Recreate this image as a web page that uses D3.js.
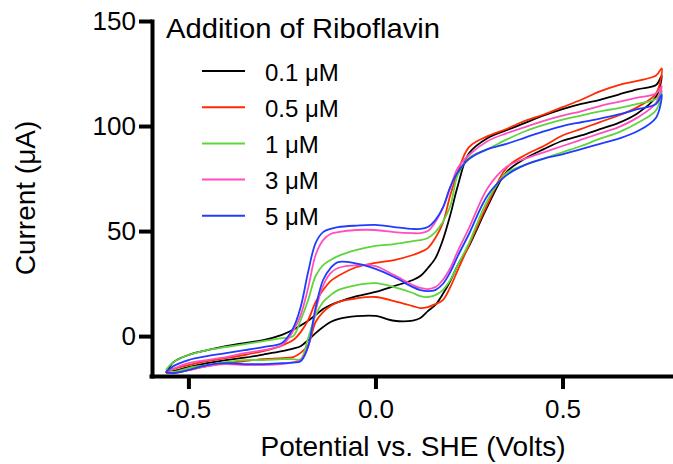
<!DOCTYPE html>
<html>
<head>
<meta charset="utf-8">
<script src="https://cdn.jsdelivr.net/npm/d3@7/dist/d3.min.js"></script>
<style>
  html, body { margin: 0; padding: 0; background: #fff; }
  svg { display: block; }
  text { font-family: Arial, "Liberation Sans", Helvetica, sans-serif; fill: #000; }
</style>
</head>
<body>
<script>
// Cyclic voltammograms recorded after successive riboflavin additions.
// Each scan runs anodic from -0.56 V up to the vertex and returns cathodic.

// Potential grid (V vs. SHE) shared by both scan directions
const potential = [-0.56, -0.54, -0.50, -0.45, -0.40, -0.35, -0.30, -0.25, -0.22, -0.20,
  -0.18, -0.16, -0.14, -0.12, -0.10, -0.05, 0.00, 0.05, 0.10, 0.12,
  0.14, 0.16, 0.18, 0.20, 0.22, 0.25, 0.30, 0.35, 0.40, 0.45,
  0.50, 0.55, 0.60, 0.65, 0.70, 0.75, 0.765];

// Current (µA) on the forward (anodic) and return (cathodic) sweeps
const blackAnodic = [-17.6, -12.4, -9.0, -6.7, -4.8, -3.3, -1.9, 0.6, 3.0, 5.0,
  7.3, 10.0, 12.9, 14.8, 16.2, 19.0, 21.0, 23.8, 26.7, 28.6,
  32.4, 37.0, 45.7, 57.6, 71.5, 87.0, 94.3, 98.0, 101.5, 105.0,
  108.0, 110.5, 112.5, 115.0, 117.5, 119.5, 124.0];
const blackCathodic = [-17.6, -16.7, -14.8, -12.9, -11.4, -10.3, -8.8, -7.2, -6.0, -4.8,
  -1.9, 1.4, 4.3, 6.7, 8.1, 9.5, 9.6, 7.3, 7.4, 8.6,
  11.9, 14.8, 20.0, 26.2, 33.8, 42.9, 61.9, 78.0, 84.5, 89.0,
  93.0, 95.5, 98.5, 101.5, 106.0, 114.0, 124.0];

const redAnodic = [-17.6, -15.7, -13.8, -11.9, -10.5, -9.0, -7.1, -4.5, -1.9, 1.9,
  7.6, 16.2, 21.9, 26.2, 28.6, 32.9, 34.8, 36.2, 38.6, 40.0,
  41.9, 46.7, 53.8, 67.0, 78.0, 90.0, 95.2, 98.6, 102.5, 105.5,
  109.0, 112.5, 116.5, 119.5, 121.5, 124.0, 127.5];
const redCathodic = [-17.6, -17.6, -16.2, -14.3, -12.9, -11.9, -11.0, -10.5, -10.0, -8.0,
  -4.3, 6.7, 11.4, 14.3, 16.2, 18.0, 18.6, 16.7, 14.3, 13.3,
  13.8, 15.2, 17.1, 23.3, 31.4, 43.3, 62.9, 80.0, 86.2, 90.5,
  95.5, 98.6, 101.9, 105.0, 109.0, 115.5, 127.5];

const greenAnodic = [-16.0, -12.4, -9.0, -6.7, -5.2, -3.8, -2.4, -1.0, 0.0, 7.6,
  17.1, 28.6, 33.8, 36.2, 38.1, 41.0, 42.9, 43.8, 45.2, 45.7,
  46.7, 49.5, 54.3, 61.9, 76.7, 84.8, 89.0, 93.5, 97.5, 100.5,
  103.0, 105.0, 107.0, 108.5, 110.5, 113.0, 117.0];
const greenCathodic = [-16.0, -17.1, -15.2, -13.8, -12.4, -11.4, -11.4, -11.0, -11.0, -11.0,
  -1.0, 10.0, 16.2, 19.5, 21.9, 24.3, 25.2, 23.3, 20.5, 19.0,
  18.6, 19.5, 21.9, 26.7, 33.8, 44.3, 64.8, 77.5, 81.5, 84.5,
  87.5, 90.5, 94.0, 97.0, 101.4, 107.5, 117.0];

const pinkAnodic = [-17.1, -15.5, -12.9, -11.4, -10.0, -8.1, -6.7, -4.3, 2.4, 10.0,
  22.9, 38.6, 45.7, 48.6, 49.5, 50.5, 50.5, 49.5, 49.0, 49.0,
  50.0, 54.3, 61.0, 70.5, 80.0, 86.2, 92.9, 96.5, 99.5, 102.5,
  105.0, 107.0, 109.5, 111.5, 113.5, 115.5, 119.0];
const pinkCathodic = [-17.1, -17.6, -16.2, -14.3, -13.3, -13.8, -13.8, -13.3, -12.4, -11.5,
  -5.0, 12.0, 24.0, 30.0, 32.4, 33.8, 33.3, 29.0, 24.3, 22.9,
  22.4, 23.3, 26.7, 32.4, 40.5, 51.4, 70.5, 80.5, 84.5, 87.5,
  90.5, 93.5, 96.5, 99.5, 104.0, 111.0, 119.0];

const blueAnodic = [-17.1, -14.3, -11.4, -9.5, -8.1, -6.7, -5.2, -3.3, 3.8, 13.8,
  30.5, 44.3, 49.5, 51.0, 51.9, 52.6, 52.9, 51.9, 51.0, 51.0,
  51.9, 55.2, 61.0, 71.0, 78.0, 84.3, 89.0, 91.5, 94.5, 97.5,
  100.0, 101.8, 103.5, 105.5, 108.0, 110.5, 115.0];
const blueCathodic = [-17.1, -17.6, -16.2, -13.8, -12.9, -13.3, -13.3, -12.9, -12.6, -12.0,
  -5.0, 13.5, 26.7, 32.4, 35.2, 34.5, 32.0, 28.1, 23.3, 21.9,
  21.4, 21.9, 24.8, 30.5, 38.1, 48.6, 67.1, 76.5, 81.5, 84.5,
  86.5, 89.0, 91.5, 94.0, 97.5, 104.0, 115.0];

const concentrations = ["0.1 μM", "0.5 μM", "1 μM", "3 μM", "5 μM"];
const seriesColors = ["#000000", "#ff2a00", "#5fd43c", "#ff4fbf", "#1f3cff"];
const anodicSweeps = [blackAnodic, redAnodic, greenAnodic, pinkAnodic, blueAnodic];
const cathodicSweeps = [blackCathodic, redCathodic, greenCathodic, pinkCathodic, blueCathodic];

const xTickValues = [-0.5, 0.0, 0.5];
const xTickLabels = ["-0.5", "0.0", "0.5"];
const yTickValues = [0, 50, 100, 150];
const yTickLabels = ["0", "50", "100", "150"];

const width = 673, height = 464;
const svg = d3.select("body").append("svg")
  .attr("width", width).attr("height", height);

const x = d3.scaleLinear().domain([-0.6, 0.79]).range([151, 671]);
const y = d3.scaleLinear().domain([-19, 150]).range([376, 21]);

// Closed voltammogram loop: forward sweep then the return sweep reversed
const loops = concentrations.map((label, i) => {
  const fwd = potential.map((v, k) => [v, anodicSweeps[i][k]]);
  const back = potential.map((v, k) => [v, cathodicSweeps[i][k]]).reverse().slice(1);
  return { label, color: seriesColors[i], points: fwd.concat(back) };
});

const line = d3.line()
  .x(d => x(d[0]))
  .y(d => y(d[1]))
  .curve(d3.curveCatmullRom.alpha(0.5));

svg.append("g")
  .selectAll("path")
  .data(loops)
  .join("path")
  .attr("d", d => line(d.points))
  .attr("fill", "none")
  .attr("stroke", d => d.color)
  .attr("stroke-width", 1.8)
  .attr("stroke-linejoin", "round");

// Axes
const xAxis = svg.append("g")
  .attr("transform", `translate(0,${y(-19)})`)
  .call(d3.axisBottom(x)
    .tickValues(xTickValues)
    .tickFormat((d, i) => xTickLabels[i])
    .tickSize(13)
    .tickSizeOuter(0)
    .tickPadding(11));

const yAxis = svg.append("g")
  .attr("transform", `translate(${x(-0.6) + 1},0)`)
  .call(d3.axisLeft(y)
    .tickValues(yTickValues)
    .tickFormat((d, i) => yTickLabels[i])
    .tickSize(13)
    .tickSizeOuter(0)
    .tickPadding(3));

[xAxis, yAxis].forEach(g => {
  g.select(".domain").attr("stroke", "#000").attr("stroke-width", 4).attr("stroke-linecap", "square");
  g.selectAll(".tick line").attr("stroke", "#000").attr("stroke-width", 4);
  g.selectAll(".tick text")
    .attr("font-family", "Arial, 'Liberation Sans', sans-serif")
    .attr("font-size", 26)
    .attr("fill", "#000");
});

// Axis titles
svg.append("text")
  .attr("x", 413).attr("y", 456)
  .attr("text-anchor", "middle")
  .attr("font-size", 28)
  .text("Potential vs. SHE (Volts)");

svg.append("text")
  .attr("transform", "translate(35,198) rotate(-90)")
  .attr("text-anchor", "middle")
  .attr("font-size", 28)
  .text("Current (μA)");

// Legend
const legend = svg.append("g");
legend.append("text")
  .attr("x", 166).attr("y", 38)
  .attr("font-size", 28)
  .attr("textLength", 274)
  .attr("lengthAdjust", "spacingAndGlyphs")
  .text("Addition of Riboflavin");

const items = legend.selectAll("g.item")
  .data(loops)
  .join("g")
  .attr("class", "item")
  .attr("transform", (d, i) => `translate(0,${71 + i * 36.2})`);

items.append("line")
  .attr("x1", 202).attr("x2", 245)
  .attr("y1", 0).attr("y2", 0)
  .attr("stroke", d => d.color)
  .attr("stroke-width", 2);

items.append("text")
  .attr("x", 265).attr("y", 9.5)
  .attr("font-size", 24)
  .text(d => d.label);
</script>
</body>
</html>
